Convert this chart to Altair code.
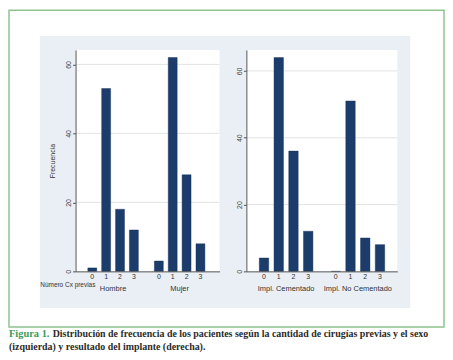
import altair as alt
import pandas as pd

# ---- data ----
cx_cats = ["0", "1", "2", "3"]
sexo_groups = ["Hombre", "Mujer"]
hombre = [1, 53, 18, 12]
mujer = [3, 62, 28, 8]
impl_groups = ["Impl. Cementado", "Impl. No Cementado"]
cementado = [4, 64, 36, 12]
no_cementado = [0, 51, 10, 8]
y_ticks = [0, 20, 40, 60]
grid_vals = [20, 40, 60]

caption_lead = "Figura 1."
caption_line1 = "Distribución de frecuencia de los pacientes según la cantidad de cirugías previas y el sexo"
caption_line2 = "(izquierda) y resultado del implante (derecha)."

BAR = "#1c3d6b"
BG = "#e9eff4"
GREEN = "#8fc48f"
AX = "#555555"
FONT = "Liberation Sans"
H = 223


def table(groups, series, gap):
    rows = []
    for gi, (g, vals) in enumerate(zip(groups, series)):
        for ci, (c, v) in enumerate(zip(cx_cats, vals)):
            rows.append({"grupo": g, "cat": c, "freq": v, "pos": ci + gi * gap})
    return pd.DataFrame(rows)


def panel(groups, series, gap, xdom, ymax, width, title, barsize, extra=None):
    df = table(groups, series, gap)
    gdf = df.groupby("grupo", sort=False)["pos"].mean().reset_index()
    xs = alt.Scale(domain=xdom, nice=False, zero=False)
    ys = alt.Scale(domain=[0, ymax], nice=False)
    yaxis = alt.Axis(values=y_ticks, grid=False, labelAngle=270, labelAlign="center",
                     labelBaseline="bottom", tickSize=3, labelPadding=1, labelFontSize=7,
                     labelFont=FONT, labelColor="#444", titleFont=FONT, titleFontSize=7,
                     titleFontWeight="normal", titleColor="#333", titlePadding=9,
                     domainColor=AX, tickColor=AX, zindex=1)
    xaxis = alt.Axis(labels=False, ticks=False, grid=False, title=None, domainColor=AX, zindex=1)

    one = pd.DataFrame({"a": [0]})
    layers = []
    if extra is not None:
        layers += extra
    white = alt.Chart(one).mark_rect(fill="white").encode(
        x=alt.value(0), x2=alt.value(width), y=alt.value(0), y2=alt.value(H))
    grid = alt.Chart(pd.DataFrame({"freq": grid_vals})).mark_rule(color="#e3e3e3", strokeWidth=1).encode(
        y=alt.Y("freq:Q", scale=ys, axis=yaxis, title=title), x=alt.value(0), x2=alt.value(width))
    bars = alt.Chart(df).mark_bar(size=barsize, color=BAR, stroke="#10294d", strokeWidth=0.4).encode(
        x=alt.X("pos:Q", scale=xs, axis=xaxis),
        y=alt.Y("freq:Q", scale=ys, axis=yaxis, title=title))
    catlab = alt.Chart(df).mark_text(fontSize=7, font=FONT, color="#333", baseline="middle").encode(
        x=alt.X("pos:Q", scale=xs), y=alt.value(H + 6), text="cat:N")
    grplab = alt.Chart(gdf).mark_text(fontSize=7.5, font=FONT, color="#333", baseline="middle").encode(
        x=alt.X("pos:Q", scale=xs), y=alt.value(H + 18), text="grupo:N")
    layers += [white, grid, bars, catlab, grplab]
    return alt.layer(*layers).properties(width=width, height=H)


one = pd.DataFrame({"a": [0]})
frame = alt.Chart(one).mark_rect(fill="white", stroke=GREEN, strokeWidth=1.5).encode(
    x=alt.value(-67), x2=alt.value(371), y=alt.value(-40), y2=alt.value(279))
bgrect = alt.Chart(one).mark_rect(fill=BG).encode(
    x=alt.value(-36), x2=alt.value(337), y=alt.value(-14), y2=alt.value(260))
cxlab = alt.Chart(one).mark_text(text="Número Cx previas", fontSize=6.5, font=FONT, color="#333",
                                  align="right", baseline="middle").encode(
    x=alt.value(20), y=alt.value(H + 14))
cap_a = alt.Chart(one).mark_text(text=caption_lead, fontSize=10.5, font="Liberation Serif",
                                 fontWeight="bold", color="#3d9a5c", align="left",
                                 baseline="middle").encode(x=alt.value(-67), y=alt.value(286))
cap_b = alt.Chart(one).mark_text(text=caption_line1, fontSize=10, font="Liberation Serif",
                                 fontWeight="bold", color="#2b2b2b", align="left",
                                 baseline="middle").encode(x=alt.value(-23), y=alt.value(286))
cap_c = alt.Chart(one).mark_text(text=caption_line2, fontSize=10, font="Liberation Serif",
                                 fontWeight="bold", color="#2b2b2b", align="left",
                                 baseline="middle").encode(x=alt.value(-67), y=alt.value(299))

left = panel(sexo_groups, [hombre, mujer], 4.8, [-0.85, 8.82], 64.2, 145, "Frecuencia", 9,
             extra=[frame, bgrect])
left = alt.layer(left, cxlab, cap_a, cap_b, cap_c)
right = panel(impl_groups, [cementado, no_cementado], 4.87, [-0.86, 8.71], 66.3, 152, None, 9.5)

chart = alt.hconcat(left, right, spacing=27, bounds="flush").properties(
    padding=0, background="white"
).configure_view(stroke=None)

chart.save("out.html", embed_options={"renderer": "svg", "actions": False})
